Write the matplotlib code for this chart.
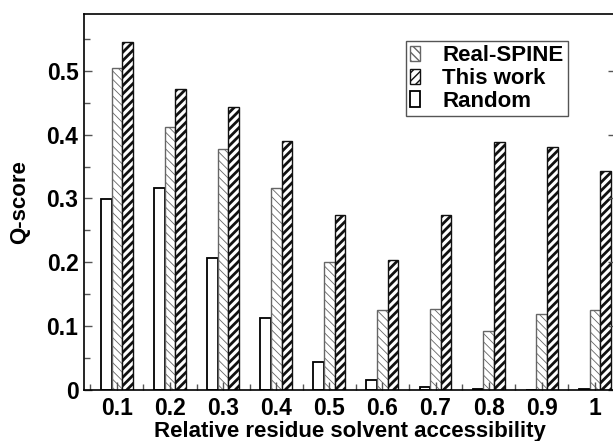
import matplotlib.pyplot as plt
import numpy as np

plt.rcParams['font.family'] = ['Liberation Sans', 'DejaVu Sans']
plt.rcParams['font.weight'] = 'bold'

accessibility = [0.1, 0.2, 0.3, 0.4, 0.5, 0.6, 0.7, 0.8, 0.9, 1.0]
tick_labels = ['0.1', '0.2', '0.3', '0.4', '0.5', '0.6', '0.7', '0.8', '0.9', '1']
random_q = [0.299, 0.317, 0.207, 0.112, 0.044, 0.015, 0.005, 0.001, 0.0005, 0.001]
real_spine_q = [0.504, 0.412, 0.377, 0.316, 0.201, 0.125, 0.126, 0.093, 0.119, 0.125]
this_work_q = [0.546, 0.472, 0.444, 0.390, 0.274, 0.203, 0.274, 0.389, 0.380, 0.343]

width = 0.02


def graph():
    x = np.array(accessibility)
    fig = plt.figure(figsize=(6.13, 4.41), dpi=100)
    ax = fig.add_axes([0.137, 0.116, 0.868, 0.852])

    b_rand = ax.bar(x - width, random_q, width, color='white', edgecolor='black',
                    linewidth=1.3, label='Random')
    b_spine = ax.bar(x, real_spine_q, width, color='white', edgecolor='#666666',
                     hatch='\\\\\\\\', linewidth=1.0, label='Real-SPINE')
    b_work = ax.bar(x + width, this_work_q, width, color='white', edgecolor='#111111',
                    hatch='////', linewidth=1.0, label='This work')
    for p in b_spine:
        p.set_hatch_linewidth(0.6)
    for p in b_work:
        p.set_hatch_linewidth(2.0)

    ax.set_xlim(0.038, 1.04)
    ax.set_ylim(0, 0.589)
    ax.set_xticks(x)
    ax.set_xticklabels(tick_labels)
    ax.set_xticks(np.arange(0.05, 1.0, 0.1), minor=True)
    ax.set_yticks(np.arange(0, 0.51, 0.1))
    ax.set_yticklabels(['0', '0.1', '0.2', '0.3', '0.4', '0.5'])
    ax.set_yticks(np.arange(0.05, 0.56, 0.1), minor=True)
    ax.tick_params(axis='both', which='major', direction='in', length=6,
                   labelsize=16.5, width=1, color='#555555')
    ax.tick_params(axis='both', which='minor', direction='in', length=4,
                   width=1, color='#555555')
    ax.tick_params(axis='y', which='major', right=True, pad=4)
    ax.tick_params(axis='x', which='major', pad=5)
    for s in ax.spines.values():
        s.set_linewidth(1.2)

    ax.set_xlabel('Relative residue solvent accessibility', fontsize=16,
                  fontweight='bold', labelpad=1)
    ax.set_ylabel('Q-score', fontsize=16, fontweight='bold', labelpad=12)

    leg = ax.legend(handles=[b_spine, b_work, b_rand], loc='upper left',
                    bbox_to_anchor=(0.662, 0.907), bbox_transform=fig.transFigure,
                    fancybox=False, framealpha=1, edgecolor='#555555',
                    prop={'size': 16, 'weight': 'bold'}, handlelength=0.45,
                    handleheight=0.7, handletextpad=1.0, labelspacing=0.08,
                    borderpad=0.2, borderaxespad=0)
    leg.get_frame().set_linewidth(1.0)

    fig.savefig('out.png', dpi=100)


if __name__ == '__main__':
    graph()
